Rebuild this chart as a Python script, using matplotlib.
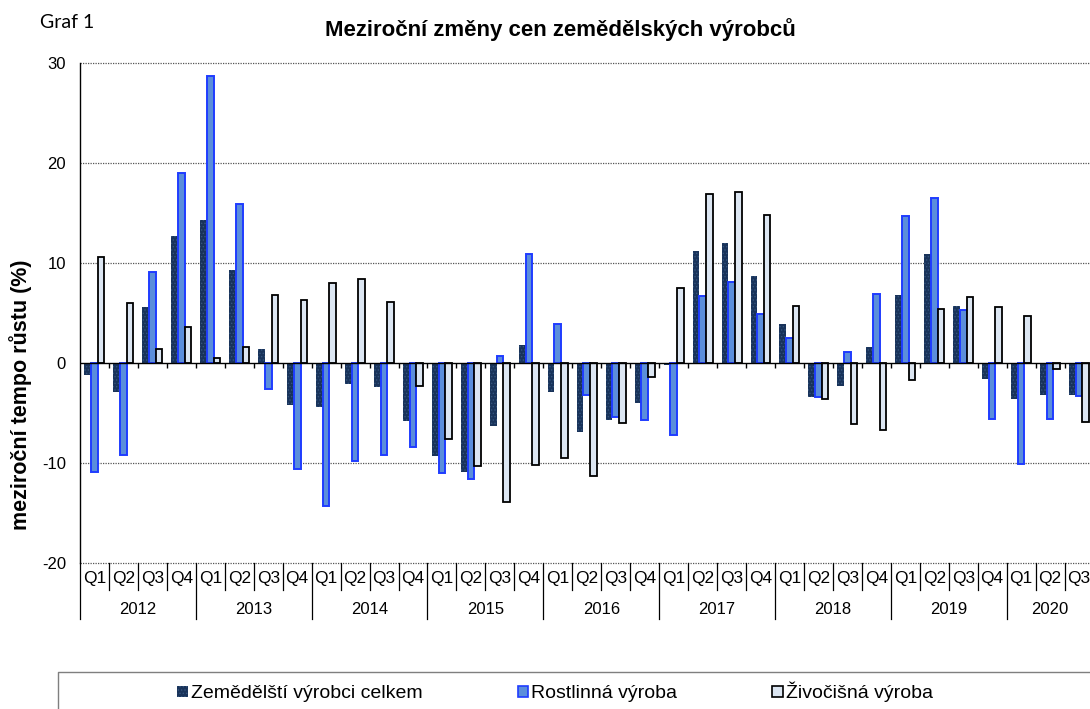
import numpy as np
import matplotlib
matplotlib.use("Agg")
import matplotlib.pyplot as plt
from matplotlib.patches import Patch
from matplotlib.lines import Line2D
import matplotlib.transforms as mtransforms

plt.rcParams['font.family'] = ['Liberation Sans', 'DejaVu Sans']
plt.rcParams['hatch.linewidth'] = 0.6

# data
years = ['2012', '2013', '2014', '2015', '2016', '2017', '2018', '2019', '2020']
quarters = ['Q1', 'Q2', 'Q3', 'Q4']
n_quarters = [4, 4, 4, 4, 4, 4, 4, 4, 3]

celkem = [-1.2, -2.9, 5.6, 12.7,
          14.3, 9.3, 1.4, -4.2,
          -4.4, -2.1, -2.4, -5.8,
          -9.3, -10.9, -6.3, 1.8,
          -2.9, -6.9, -5.7, -4.0,
          -0.15, 11.2, 12.0, 8.7,
          3.9, -3.4, -2.3, 1.6,
          6.8, 10.9, 5.7, -1.6,
          -3.6, -3.2, -3.2]
rostlinna = [-10.9, -9.2, 9.1, 19.0,
             28.7, 15.9, -2.6, -10.6,
             -14.3, -9.8, -9.2, -8.4,
             -11.0, -11.6, 0.7, 10.9,
             3.9, -3.2, -5.4, -5.7,
             -7.2, 6.7, 8.1, 4.9,
             2.5, -3.4, 1.1, 6.9,
             14.7, 16.5, 5.3, -5.6,
             -10.1, -5.6, -3.3]
zivocisna = [10.6, 6.0, 1.4, 3.6,
             0.5, 1.6, 6.8, 6.3,
             8.0, 8.4, 6.1, -2.3,
             -7.6, -10.3, -13.9, -10.2,
             -9.5, -11.3, -6.0, -1.4,
             7.5, 16.9, 17.1, 14.8,
             5.7, -3.6, -6.1, -6.7,
             -1.7, 5.4, 6.6, 5.6,
             4.7, -0.6, -5.9]

series_names = ['Zemědělští výrobci celkem', 'Rostlinná výroba', 'Živočišná výroba']

W, H = 1090, 709
fig = plt.figure(figsize=(W / 100, H / 100), dpi=100)
ax = fig.add_axes([80 / W, 1 - 563 / H, (1093.5 - 80) / W, 500 / H])

x = np.arange(len(celkem))
bw = 0.23
ax.bar(x - bw, celkem, bw, facecolor='#19335A', edgecolor='#34557F',
       hatch='.....', linewidth=0, zorder=2)
ax.bar(x, rostlinna, bw, facecolor='#5B8EDB', edgecolor='#1F3CFF',
       linewidth=1.4, zorder=3)
ax.bar(x + bw, zivocisna, bw, facecolor='#DCE6F2', edgecolor='black',
       linewidth=1.3, zorder=4)

ax.set_xlim(-0.5, len(celkem) - 0.5)
ax.set_ylim(-20, 30)
ax.set_yticks([-20, -10, 0, 10, 20, 30])
ax.set_yticklabels(['-20', '-10', '0', '10', '20', '30'])
ax.tick_params(axis='y', length=0, pad=10, labelsize=12)
ax.set_xticks([])
for gy in [-20, -10, 10, 20, 30]:
    ax.axhline(gy, color='#555555', linestyle=(0, (1, 1)), linewidth=0.9,
               zorder=1, clip_on=False)
for s in ['top', 'right', 'bottom']:
    ax.spines[s].set_visible(False)
ax.spines['left'].set_color('black')
ax.spines['left'].set_linewidth(1.0)

# zero line with small ticks between quarters
ax.axhline(0, color='black', linewidth=1.0, zorder=5)
ax.vlines(np.arange(1, len(celkem)) - 0.5, -0.45, 0, color='black',
          linewidth=1.0, zorder=5)

# two-level category axis
trans = mtransforms.blended_transform_factory(ax.transData, ax.transAxes)
q_lo = -27 / 500
y_lo = -56 / 500
idx = 0
for yr, n in zip(years, n_quarters):
    start = idx - 0.5
    ax.plot([start, start], [0, y_lo], transform=trans, color='black',
            linewidth=0.9, clip_on=False)
    for q in range(n):
        pos = idx + q
        if q > 0:
            ax.plot([pos - 0.5, pos - 0.5], [0, q_lo], transform=trans,
                    color='black', linewidth=0.9, clip_on=False)
        ax.text(pos, -16 / 500, quarters[q], transform=trans, ha='center',
                va='center', fontsize=12.5)
    ax.text(idx + n / 2 - 0.5, -46 / 500, yr, transform=trans, ha='center',
            va='center', fontsize=12)
    idx += n

ax.set_ylabel('meziroční tempo růstu (%)', fontsize=15.5, fontweight='bold')
ax.yaxis.set_label_coords(-48 / 1013.5, (563 - 395) / 500)

fig.text(560 / W, 1 - 30 / H, 'Meziroční změny cen zemědělských výrobců',
         ha='center', va='center', fontsize=16, fontweight='bold')
fig.text(40 / W, 1 - 23 / H, 'Graf 1', ha='left', va='center', fontsize=14,
         family=['Lato', 'DejaVu Sans'])

# legend in an open box at the bottom
fig.add_artist(Line2D([58 / W, 58 / W, 1.0], [0, 1 - 672 / H, 1 - 672 / H],
                      transform=fig.transFigure, color='#7F7F7F', linewidth=1.0))
handles = [Patch(facecolor='#19335A', edgecolor='#34557F', hatch='.....', linewidth=0),
           Patch(facecolor='#5B8EDB', edgecolor='#1F3CFF', linewidth=1.2),
           Patch(facecolor='#DCE6F2', edgecolor='black', linewidth=1.2)]
fig.legend(handles, series_names, loc='center', ncol=3,
           bbox_to_anchor=(555 / W, 1 - 692 / H), frameon=False, fontsize=14,
           handlelength=0.55, handleheight=0.55, handletextpad=0.15,
           columnspacing=4.9, borderaxespad=0)

fig.savefig('out.png', dpi=100)
